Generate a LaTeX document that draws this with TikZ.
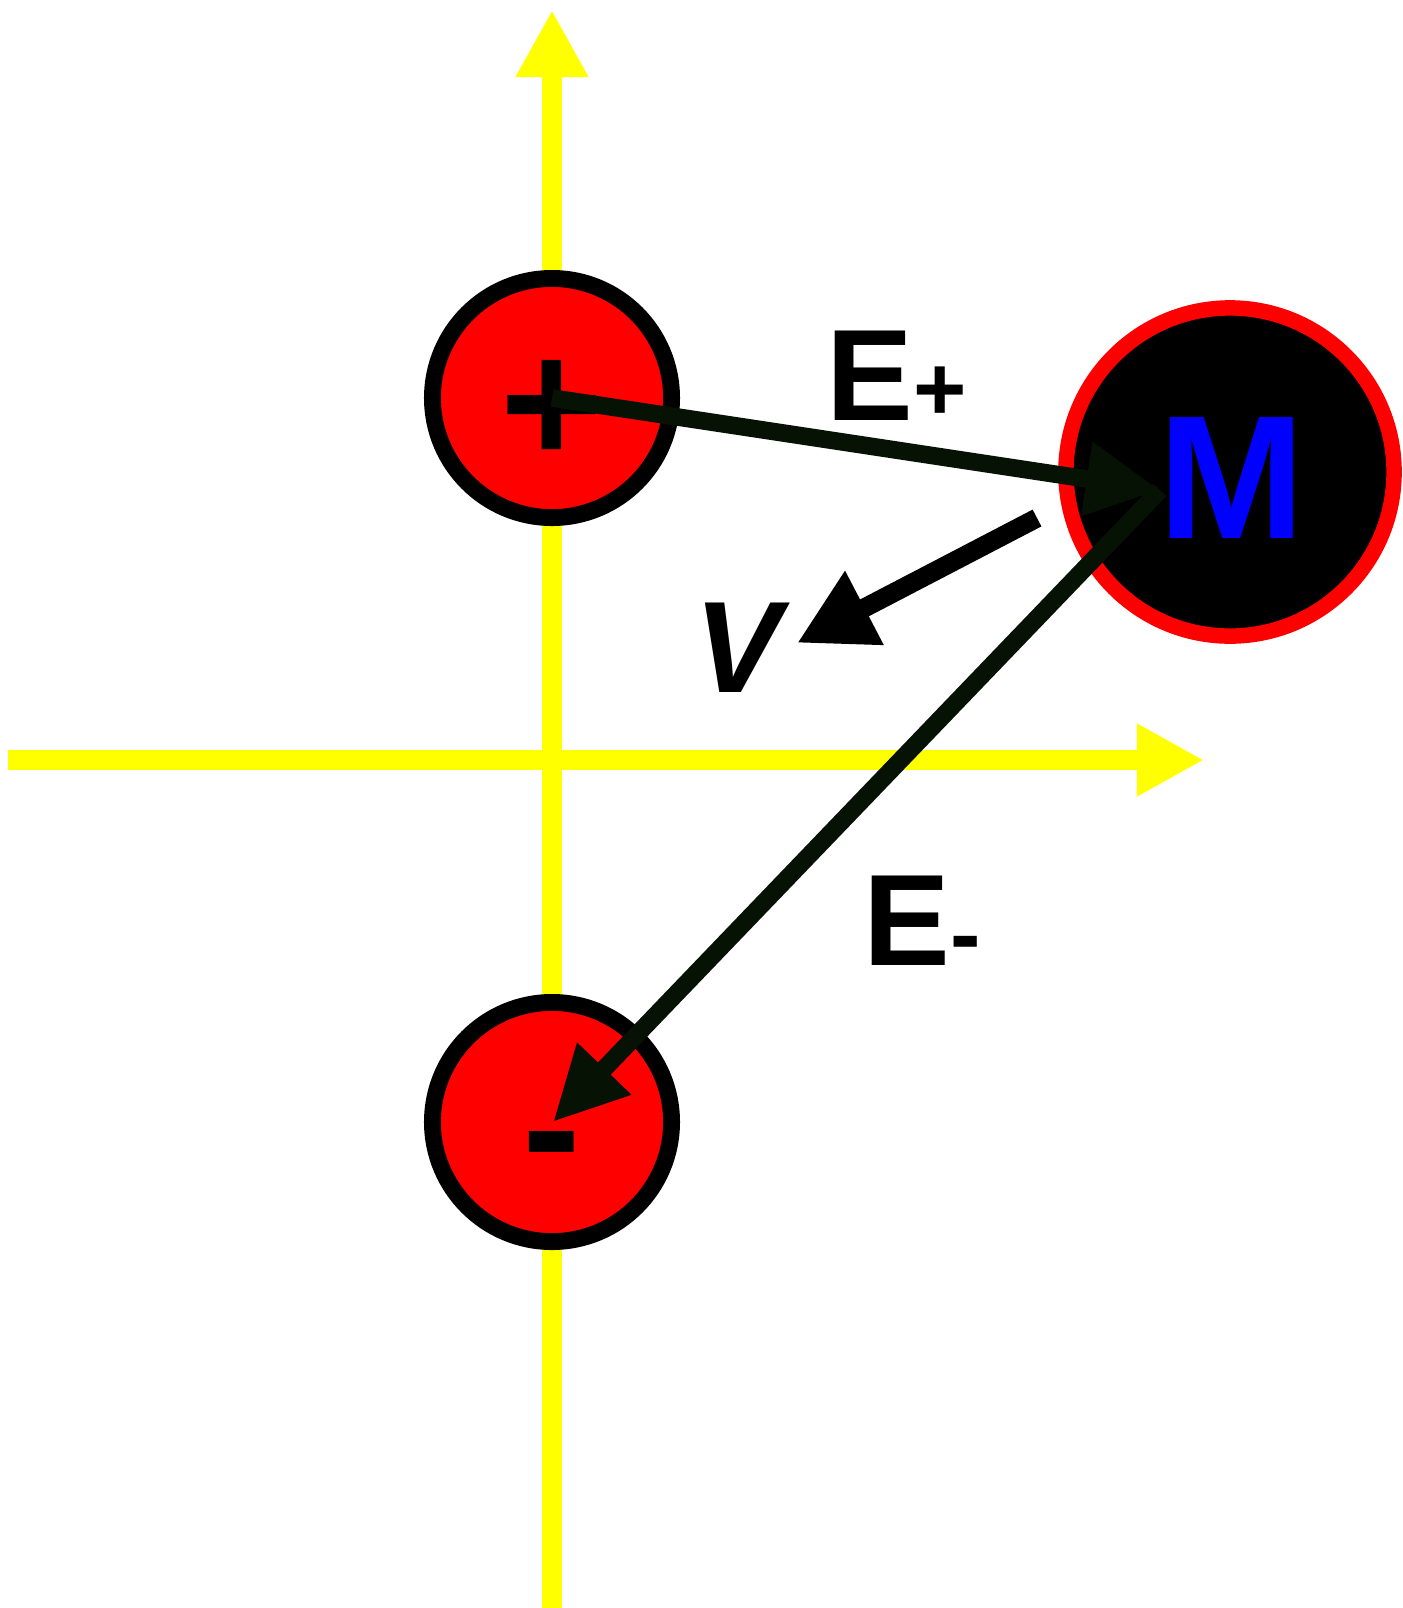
\documentclass[tikz,border=0pt]{standalone}
\usepackage{fontspec}
\setmainfont{Liberation Sans}
\usepackage{tikz}
\usetikzlibrary{arrows.meta}
\definecolor{axisyel}{RGB}{255,255,0}
\definecolor{chargered}{RGB}{255,0,0}
\definecolor{massblue}{RGB}{0,0,255}
\definecolor{fielddark}{RGB}{6,18,4}
\newcommand{\subsign}[1]{{\fontsize{26}{26}\selectfont\bfseries #1}}
\tikzset{
  axis/.style={draw=axisyel, line width=5.7pt,
    -{Triangle[length=0.67cm, width=0.68cm]}},
  charge/.style={circle, draw=black, fill=chargered, line width=4.8pt,
    minimum size=2.39cm, inner sep=0pt},
  massball/.style={circle, draw=chargered, fill=black, line width=4.4pt,
    minimum size=3.28cm, inner sep=0pt},
  sign/.style={inner sep=0pt, anchor=base, font=\fontsize{50}{50}\selectfont\bfseries},
  field/.style={draw=fielddark, line width=5pt,
    -{Triangle[length=0.74cm, width=0.7cm]}},
  velo/.style={draw=black, line width=5.4pt,
    -{Triangle[length=0.76cm, width=0.78cm]}},
  lbl/.style={inner sep=0pt, anchor=base west, font=\fontsize{37}{37}\selectfont\bfseries}
}
\begin{document}
\begin{tikzpicture}[x=0.01cm, y=-0.01cm]
  \useasboundingbox (0,0) rectangle (1403,1608);
  \coordinate (ybot) at (552,1608);
  \coordinate (ytop) at (552,10);
  \coordinate (xleft) at (8,760);
  \coordinate (xright) at (1204,760);
  \draw[axis] (ybot) -- (ytop);
  \draw[axis] (xleft) -- (xright);
  \node[charge] (pos) at (552,398) {};
  \node[charge] (neg) at (552,1122) {};
  \node[massball] (mass) at (1230,472) {};
  \node[sign] (plus) at (552,463) {+};
  \node[sign] (minus) at (552,1187) {-};
  \node[inner sep=0pt, anchor=base, font=\fontsize{50}{50}\selectfont\bfseries, text=massblue]
    (mlabel) at (1232,538) {M};
  \coordinate (mtip) at (1160,490);
  \coordinate (negtip) at (553,1122);
  \coordinate (vstart) at (1037,518);
  \coordinate (vtip) at (797,643);
  \draw[field] (pos.center) -- (mtip);
  \draw[field] (mtip) -- (negtip);
  \draw[velo] (vstart) -- (vtip);
  \node[lbl] (eplus) at (826,420) {E\subsign{+}};
  \node[lbl] (eminus) at (863,965) {E\subsign{-}};
  \node[inner sep=0pt, anchor=base, font=\fontsize{37}{37}\selectfont\bfseries\itshape]
    (vlabel) at (738,692) {V};
\end{tikzpicture}
\end{document}
